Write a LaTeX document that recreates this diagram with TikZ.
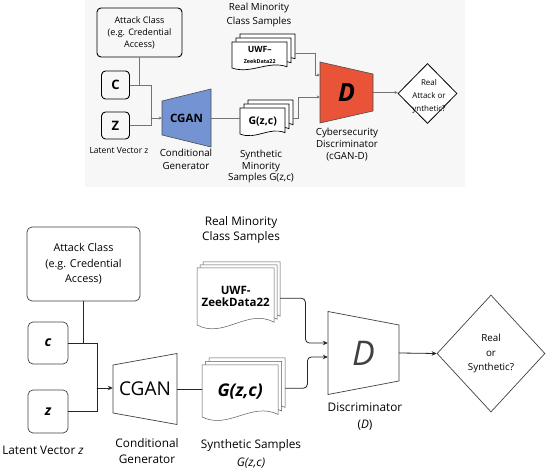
\documentclass[tikz,border=0pt]{standalone}
\usepackage{fontspec}
\setmainfont{Open Sans}
\usetikzlibrary{shapes.geometric,arrows.meta}

\begin{document}
\begin{tikzpicture}[
    x=1pt, y=-1pt,
    line cap=round,
    every node/.style={font=\fontsize{9}{12}\selectfont, align=center},
    boxT/.style={draw, line width=0.9pt, rounded corners=4pt, inner sep=0pt},
    boxB/.style={draw=black!75, line width=0.7pt, rounded corners=5pt, inner sep=0pt},
    wireT/.style={draw=black!55, line width=0.6pt},
    wireB/.style={draw=black!85, line width=0.8pt},
    flowT/.style={wireT, -{Stealth[length=3pt,width=3pt]}},
    flowB/.style={wireB, -{Stealth[length=5pt,width=4.5pt]}},
    pageT/.style={draw, line width=0.7pt, fill=white},
    pageB/.style={draw=black!65, line width=0.5pt, fill=white},
    lblT/.style={font=\fontsize{9.8}{13}\selectfont},
    lblB/.style={font=\fontsize{11.8}{16}\selectfont},
]

\definecolor{cganblue}{RGB}{115,147,210}
\definecolor{discred}{RGB}{233,83,56}

% ---------- macro: stack of three pages with a wavy lower edge ----------
% #1 = node name, #2/#3 = top-left of the front page, #4 = width, #5 = height
% #6 = page style, #7 = offset between pages, #8 = text on the front page
\newcommand{\docstack}[8]{%
    \foreach \k in {2,1,0}{
        \begin{scope}[shift={({\k*#7},{-\k*#7})}]
            \draw[#6] (#2,#3) -- ({#2+#4},#3) -- ({#2+#4},{#3+#5-0.05*#5})
                .. controls ({#2+0.65*#4},{#3+#5-0.3*#5}) and ({#2+0.35*#4},{#3+#5+0.25*#5})
                .. (#2,{#3+#5}) -- cycle;
        \end{scope}
    }
    \node[inner sep=0pt, minimum width=#4, minimum height=#5, anchor=north west] (#1) at (#2,#3) {#8};
}

% ---------- macro: trapezoid block (generator / discriminator) ----------
% #1 = node name, #2/#3 = centre, #4 = width, #5 = left height, #6 = right height
% #7 = fill/line style, #8 = text
\newcommand{\trapnode}[8]{%
    \draw[#7] ({#2-#4/2},{#3-#5/2}) -- ({#2+#4/2},{#3-#6/2})
        -- ({#2+#4/2},{#3+#6/2}) -- ({#2-#4/2},{#3+#5/2}) -- cycle;
    \node[inner sep=0pt, minimum width=#4, minimum height=#6] (#1) at (#2,#3) {#8};
}

\useasboundingbox (0,0) rectangle (550,473);

% ================= upper panel (coloured) =================
\fill[black!3] (85,0) rectangle (465,187);

\node[boxT, minimum width=85, minimum height=49, font=\fontsize{9}{12}\selectfont]
    (attT) at (139.5,32.5) {Attack Class\\(e.g. Credential\\Access)};
\node[boxT, minimum width=28, minimum height=28, font=\fontsize{13}{13}\selectfont\bfseries]
    (cT) at (115.5,85) {C};
\node[boxT, minimum width=28, minimum height=27, font=\fontsize{13}{13}\selectfont\bfseries]
    (zT) at (115.5,125.5) {Z};
\node[lblT, font=\fontsize{8.5}{10}\selectfont] (latentT) at (119,151) {Latent Vector z};

\trapnode{genT}{186.5}{118}{49}{34}{58}{fill=cganblue, draw=black!70, line width=0.6pt}%
    {\fontsize{11.5}{12}\selectfont\bfseries CGAN}
\node[lblT] (genlblT) at (186,159.5) {Conditional\\Generator};

\docstack{uwfT}{232}{42}{55}{26}{pageT}{4}%
    {\fontsize{8.6}{9}\selectfont\bfseries UWF–\\[-1pt]\fontsize{5.4}{7}\selectfont\bfseries ZeekData22}
\node[lblT, font=\fontsize{9.8}{14}\selectfont] (realT) at (259,15) {Real Minority\\Class Samples};

\docstack{gT}{240}{108}{45}{26}{pageT}{4}%
    {\fontsize{10.5}{11}\selectfont\bfseries G(z,c)}
\node[lblT, font=\fontsize{9.8}{11.8}\selectfont] (synT) at (261,166.5)
    {Synthetic\\Minority\\Samples G(z,c)};

\trapnode{dT}{346.5}{92.5}{53}{61}{37}{fill=discred, draw=black!70, line width=0.6pt}%
    {\fontsize{25}{25}\selectfont\bfseries\itshape D}
\node[lblT, font=\fontsize{9.8}{12}\selectfont] (disclblT) at (347,145)
    {Cybersecurity\\Discriminator\\(cGAN-D)};

\node[diamond, draw, line width=0.8pt, fill=white, inner sep=0pt,
      minimum width=59, minimum height=60] (verdictT) at (427.5,93.5) {};
\node[font=\fontsize{8}{13}\selectfont] (verdicttxtT) at (429,96) {Real\\Attack or\\ynthetic?};

\coordinate (mergeT) at (151,118);
\draw[wireT] (attT.south) -- (attT.south |- cT.east);
\draw[wireT] (cT.east) -| (mergeT);
\draw[wireT] (zT.east) -| (mergeT);
\draw[flowT] (mergeT) -- (mergeT -| genT.west);
\draw[wireT] (genT.east) -- (genT.east -| gT.west);
\draw[flowT] ([xshift=8pt, yshift=2pt]uwfT.east) -| ++(20,0) |- ([yshift=17.5pt]dT.west);
\draw[flowT] ([xshift=8pt, yshift=3pt]gT.east) -- ++(5,0) |- ([yshift=-4.5pt]dT.west);
\draw[flowT] (dT.east) -- (dT.east -| verdictT.west);

% ================= lower panel =================
\node[boxB, minimum width=113, minimum height=74, font=\fontsize{10.8}{15.5}\selectfont]
    (attB) at (83.5,264) {Attack Class\\(e.g. Credential\\Access)};
\node[boxB, minimum width=40, minimum height=42, font=\fontsize{14}{14}\selectfont\bfseries\itshape]
    (cB) at (48,343) {c};
\node[boxB, minimum width=40, minimum height=43, font=\fontsize{14}{14}\selectfont\bfseries\itshape]
    (zB) at (48,411.5) {z};
\node[lblB] (latentB) at (43,450) {Latent Vector \textit{z}};

\trapnode{genB}{145}{389}{64}{48}{71}{draw=black!75, line width=0.7pt, fill=white}%
    {\fontsize{19}{19}\selectfont CGAN}
\node[lblB] (genlblB) at (147,451) {Conditional\\Generator};

\docstack{uwfB}{197}{268}{77}{57}{pageB}{3}%
    {\fontsize{11.5}{17}\selectfont\bfseries UWF-\\\fontsize{11.5}{17}\selectfont\bfseries ZeekData22}
\node[lblB, font=\fontsize{11.8}{14.5}\selectfont] (realB) at (241,230) {Real Minority\\Class Samples};

\docstack{gB}{202}{365}{76}{52}{pageB}{3.5}%
    {\fontsize{17.5}{18}\selectfont\bfseries\itshape G(z,c)}
\node[lblB, font=\fontsize{11.8}{18}\selectfont] (synB) at (251,454) {Synthetic Samples\\\textit{G(z,c)}};

\trapnode{dB}{363.5}{353}{71}{83}{56}{draw=black!75, line width=0.7pt, fill=white}%
    {\fontsize{34}{34}\selectfont\itshape\color{black!75} D}
\node[lblB, font=\fontsize{11.8}{17}\selectfont] (disclblB) at (365,416.5) {Discriminator\\(\textit{D})};

\node[diamond, draw=black!75, line width=0.7pt, inner sep=0pt,
      minimum width=108, minimum height=117, font=\fontsize{9.8}{14.5}\selectfont]
    (verdictB) at (491,353.5) {Real\\or\\Synthetic?};

\coordinate (mergeB) at (97,388);
\draw[wireB] (attB.south) -- (attB.south |- cB.east);
\draw[wireB] (cB.east) -| (mergeB);
\draw[wireB] (zB.east) -| (mergeB);
\draw[flowB] (mergeB) -- (mergeB -| genB.west);
\draw[wireB] (genB.east) -- (genB.east -| gB.west);
\draw[flowB, rounded corners=4pt] ([xshift=6pt, yshift=-1.5pt]uwfB.east) -- ++(25,0) |- ([yshift=10pt]dB.west);
\draw[flowB, rounded corners=4pt] ([xshift=7pt, yshift=3pt]gB.east) -- ++(22,0) |- ([yshift=-4pt]dB.west);
\draw[flowB] (dB.east) -- (verdictB.west);

\end{tikzpicture}
\end{document}
